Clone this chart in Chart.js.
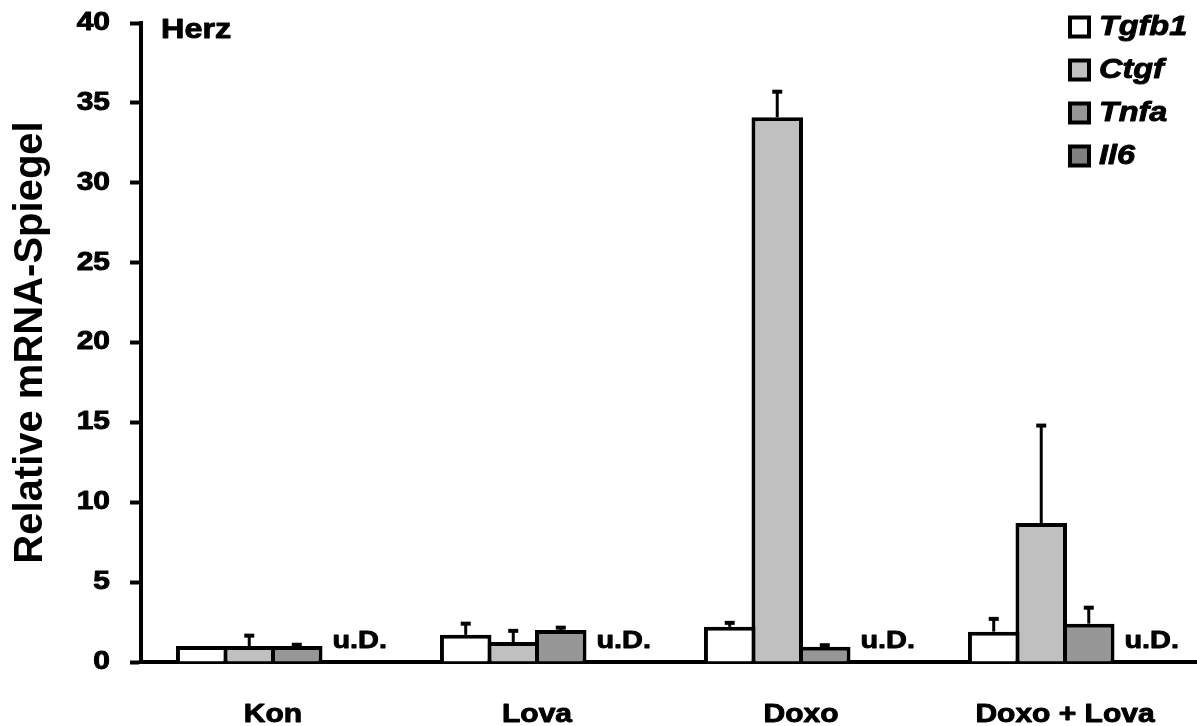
<!DOCTYPE html>
<html>
<head>
<meta charset="utf-8">
<script src="https://cdn.jsdelivr.net/npm/chart.js@4"></script>
<style>
  body { margin: 0; background: #fff; }
  canvas { display: block; }
</style>
</head>
<body>
<canvas id="chart" width="1197" height="726"></canvas>
<script>
const groups = ["Kon", "Lova", "Doxo", "Doxo + Lova"];
const genes = ["Tgfb1", "Ctgf", "Tnfa", "Il6"];

const tgfb1 = [1.0, 1.7, 2.2, 1.9];
const tgfb1Err = [0, 0.7, 0.25, 0.8];
const ctgf = [1.0, 1.25, 34.1, 8.7];
const ctgfErr = [0.65, 0.7, 1.6, 6.1];
const tnfa = [1.0, 2.0, 0.95, 2.4];
const tnfaErr = [0.08, 0.15, 0.1, 1.0];
const il6 = [null, null, null, null]; // u.D. = unter Detektionsgrenze

const yMin = 0, yMax = 40, yStep = 5;

const colors = ["#ffffff", "#c0c0c0", "#969696", "#808080"];
const values = [tgfb1, ctgf, tnfa, il6];
const errors = [tgfb1Err, ctgfErr, tnfaErr, [0, 0, 0, 0]];

const FONT = "'Liberation Sans', Arial, Helvetica, sans-serif";
const TEXT_STRETCH = 1.2; // Schrift im Original ist breiter gezogen

// horizontal text gets stretched and a bit heavier, rotated text (axis title) stays as is
const stretchText = {
  id: "stretchText",
  beforeInit(chart) {
    const ctx = chart.ctx;
    const fill = ctx.fillText.bind(ctx);
    const stroke = ctx.strokeText.bind(ctx);
    ctx.fillText = function (text, x, y, maxWidth) {
      if (ctx.getTransform().b !== 0) return fill(text, x, y, maxWidth);
      ctx.save();
      ctx.translate(x, y);
      ctx.scale(TEXT_STRETCH, 1);
      fill(text, 0, 0);
      ctx.lineWidth = 0.9;
      ctx.lineJoin = "round";
      ctx.strokeStyle = ctx.fillStyle;
      stroke(text, 0, 0);
      ctx.restore();
    };
  },
};

const errorBars = {
  id: "errorBars",
  afterDatasetsDraw(chart) {
    const ctx = chart.ctx;
    const y = chart.scales.y;
    ctx.save();
    ctx.strokeStyle = "#000";
    errors.forEach((errs, di) => {
      const meta = chart.getDatasetMeta(di);
      errs.forEach((e, i) => {
        if (!e || values[di][i] === null) return;
        const bar = meta.data[i];
        const top = y.getPixelForValue(values[di][i] + e);
        ctx.lineWidth = 3;
        ctx.beginPath();
        ctx.moveTo(bar.x, bar.y);
        ctx.lineTo(bar.x, top);
        ctx.stroke();
        ctx.lineWidth = 4;
        ctx.beginPath();
        ctx.moveTo(bar.x - 5, top);
        ctx.lineTo(bar.x + 5, top);
        ctx.stroke();
      });
    });
    ctx.restore();
  },
};

const annotations = {
  id: "annotations",
  afterDraw(chart) {
    const ctx = chart.ctx;
    const y = chart.scales.y;
    ctx.save();
    ctx.fillStyle = "#000";
    ctx.textAlign = "left";

    ctx.textBaseline = "middle";
    ctx.font = `bold 27px ${FONT}`;
    ctx.fillText("Herz", 161, 31);

    // u.D. next to the missing Il6 bars
    const tnfaMeta = chart.getDatasetMeta(2);
    ctx.font = `bold 24px ${FONT}`;
    ctx.textBaseline = "alphabetic";
    il6.forEach((v, i) => {
      if (v !== null) return;
      const bar = tnfaMeta.data[i];
      ctx.fillText("u.D.", bar.x + bar.width / 2 + 10, y.getPixelForValue(0) - 14);
    });

    // legend
    ctx.font = `italic bold 27px ${FONT}`;
    ctx.textBaseline = "middle";
    genes.forEach((g, i) => {
      const cy = 27 + i * 43;
      ctx.fillStyle = colors[i];
      ctx.fillRect(1070, cy - 9.5, 19, 19);
      ctx.lineWidth = 4;
      ctx.strokeStyle = "#000";
      ctx.strokeRect(1070, cy - 9.5, 19, 19);
      ctx.fillStyle = "#000";
      ctx.fillText(g, 1099, cy + 1);
    });
    ctx.restore();
  },
};

const ctx = document.getElementById("chart").getContext("2d");
new Chart(ctx, {
  type: "bar",
  data: {
    labels: groups,
    datasets: genes.map((g, i) => ({
      label: g,
      data: values[i],
      backgroundColor: colors[i],
      borderColor: "#000",
      borderWidth: 4,
      borderSkipped: "bottom",
      categoryPercentage: 0.72,
      barPercentage: 1.0842,
    })),
  },
  options: {
    responsive: false,
    animation: false,
    layout: { padding: { top: 23, right: 0, bottom: 0, left: 0 } },
    plugins: {
      legend: { display: false },
      tooltip: { enabled: false },
    },
    scales: {
      x: {
        grid: { display: false, drawTicks: false },
        border: { display: true, color: "#000", width: 4 },
        ticks: {
          color: "#000",
          font: { family: FONT, size: 25, weight: "bold" },
          padding: 38,
          maxRotation: 0,
          autoSkip: false,
        },
        afterFit(scale) { scale.height = 64; },
      },
      y: {
        min: yMin,
        max: yMax,
        grid: {
          drawOnChartArea: false,
          drawTicks: true,
          tickLength: 11,
          tickWidth: 4,
          tickColor: "#000",
        },
        border: { display: true, color: "#000", width: 4 },
        ticks: {
          stepSize: yStep,
          color: "#000",
          padding: 20,
          font: { family: FONT, size: 25, weight: "bold" },
        },
        title: {
          display: true,
          text: "Relative mRNA-Spiegel",
          color: "#000",
          font: { family: FONT, size: 40, weight: "bold" },
          padding: { top: 7, bottom: 0 },
        },
        afterFit(scale) {
          scale.width = 141;
          scale.paddingTop = 0;
          scale.paddingBottom = 0;
        },
      },
    },
  },
  plugins: [stretchText, errorBars, annotations],
});
</script>
</body>
</html>
